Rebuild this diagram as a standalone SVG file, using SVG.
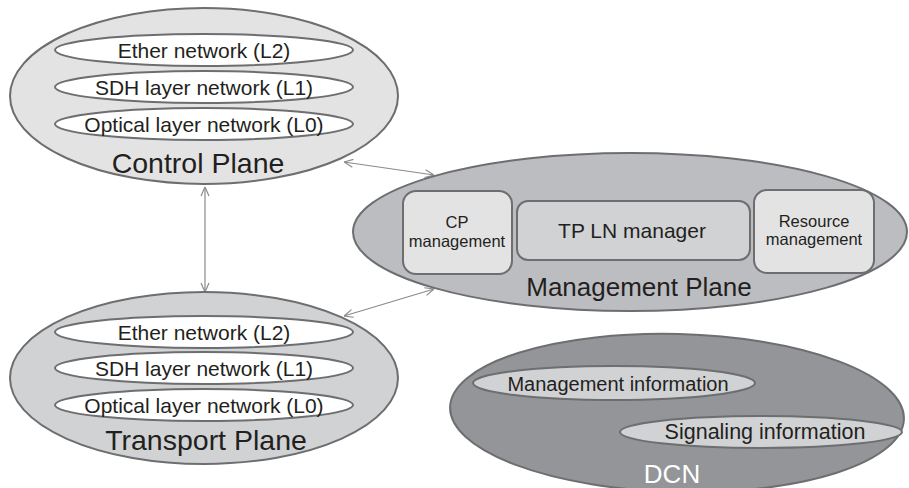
<svg xmlns="http://www.w3.org/2000/svg" width="909" height="488" viewBox="0 0 909 488">
<style>
text{font-family:"Liberation Sans",Arial,sans-serif;fill:#231f20;text-anchor:middle}
.outer{stroke:#6d6e70;stroke-width:2}
.inner{fill:#ffffff;stroke:#6d6e70;stroke-width:2}
.box{stroke:#6d6e70;stroke-width:2}
.lay{font-size:21px}
.plane{font-size:28.5px}
.conn{fill:none;stroke:#8a8b8d;stroke-width:1.2;marker-start:url(#ah);marker-end:url(#ah)}
</style>
<defs>
<marker id="ah" viewBox="0 0 10 10" refX="10" refY="5" markerWidth="10" markerHeight="10" markerUnits="userSpaceOnUse" orient="auto-start-reverse">
<path d="M1,1 L10,5 L1,9" fill="none" stroke="#8a8b8d" stroke-width="1.2"/>
</marker>
</defs>
<g id="connectors">
<line class="conn" x1="344" y1="162" x2="434" y2="175"/>
<line class="conn" x1="205" y1="187" x2="205" y2="292"/>
<line class="conn" x1="434" y1="289" x2="344" y2="316"/>
</g>
<g id="control-plane">
<ellipse class="outer" cx="204" cy="96" rx="194" ry="88" fill="#e3e3e4"/>
<ellipse class="inner" cx="204" cy="50" rx="149" ry="16"/>
<ellipse class="inner" cx="204" cy="87" rx="149" ry="16"/>
<ellipse class="inner" cx="204" cy="124" rx="149" ry="16"/>
<text class="lay" x="204" y="58">Ether network (L2)</text>
<text class="lay" x="204" y="95">SDH layer network (L1)</text>
<text class="lay" x="204" y="132">Optical layer network (L0)</text>
<text class="plane" x="198" y="173">Control Plane</text>
</g>
<g id="transport-plane">
<ellipse class="outer" cx="204" cy="378" rx="194" ry="86" fill="#d1d2d4"/>
<ellipse class="inner" cx="204" cy="332" rx="149" ry="16"/>
<ellipse class="inner" cx="204" cy="368" rx="149" ry="16"/>
<ellipse class="inner" cx="204" cy="405" rx="149" ry="16"/>
<text class="lay" x="204" y="340">Ether network (L2)</text>
<text class="lay" x="204" y="376">SDH layer network (L1)</text>
<text class="lay" x="204" y="413">Optical layer network (L0)</text>
<text class="plane" x="206" y="450">Transport Plane</text>
</g>
<g id="management-plane">
<ellipse class="outer" cx="630" cy="232" rx="277" ry="79" fill="#bcbdc0"/>
<text x="639" y="296" style="font-size:26px">Management Plane</text>
</g>
<g id="cp-management">
<rect class="box" x="403" y="191" width="109" height="83" rx="13" fill="#e3e3e4"/>
<text x="457" y="228" style="font-size:16.5px">CP</text>
<text x="457" y="247" style="font-size:16.5px">management</text>
</g>
<g id="tp-ln-manager">
<rect class="box" x="517" y="201" width="233" height="59" rx="11" fill="#d1d2d4"/>
<text x="632" y="238" style="font-size:21px">TP LN manager</text>
</g>
<g id="resource-management">
<rect class="box" x="754" y="190" width="120" height="83" rx="13" fill="#e3e3e4"/>
<text x="814" y="227" style="font-size:16.5px">Resource</text>
<text x="814" y="245" style="font-size:16.5px">management</text>
</g>
<g id="dcn">
<ellipse class="outer" cx="677" cy="413" rx="227" ry="79" fill="#939598" transform="rotate(1.5 677 413)"/>
<ellipse class="box" cx="614" cy="383" rx="141" ry="17" fill="#d1d2d4"/>
<ellipse class="box" cx="761" cy="432" rx="141" ry="16" fill="#d1d2d4"/>
<text x="618" y="391" style="font-size:20px">Management information</text>
<text x="765" y="439" style="font-size:21.5px">Signaling information</text>
<text x="672" y="483" style="font-size:26px;fill:#ffffff">DCN</text>
</g>
</svg>
